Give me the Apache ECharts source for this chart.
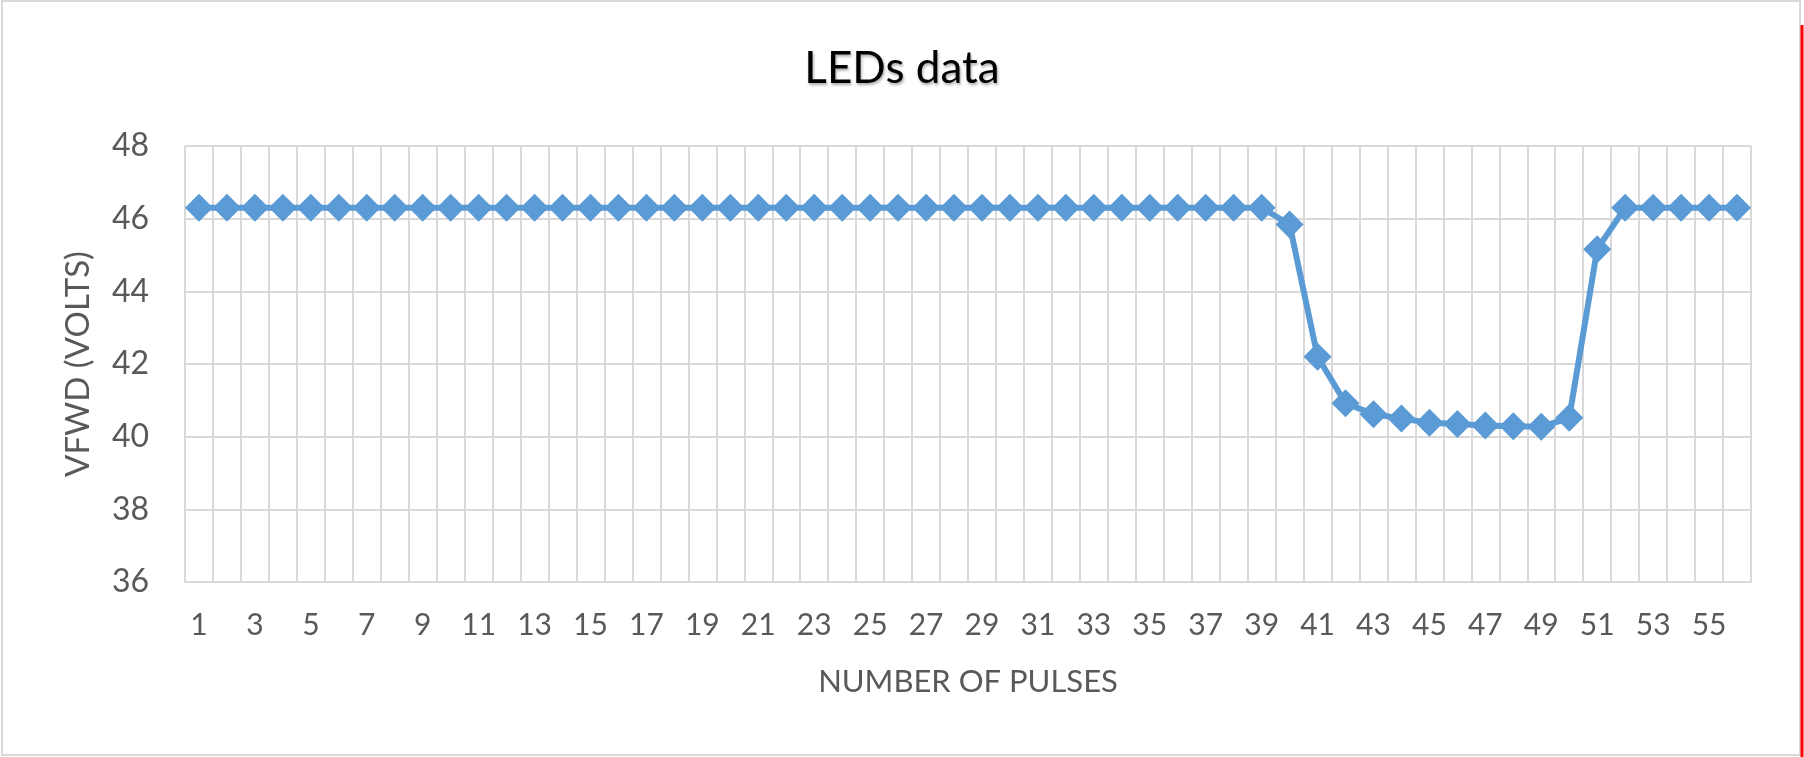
<!DOCTYPE html>
<html>
<head>
<meta charset="utf-8">
<title>LEDs data</title>
<script src="https://cdn.jsdelivr.net/npm/echarts@6.0.0/dist/echarts.min.js"></script>
<style>
  html, body { margin: 0; padding: 0; background: #fff; }
  #chart { width: 1804px; height: 757px; }
</style>
</head>
<body>
<div id="chart"></div>
<script>
"use strict";

// pulse number 1..56 (category labels)
const pulses = ["1","2","3","4","5","6","7","8","9","10","11","12","13","14",
  "15","16","17","18","19","20","21","22","23","24","25","26","27","28",
  "29","30","31","32","33","34","35","36","37","38","39","40","41","42",
  "43","44","45","46","47","48","49","50","51","52","53","54","55","56"];

// forward voltage (volts)
const vfwd = [46.3, 46.3, 46.3, 46.3, 46.3, 46.3, 46.3, 46.3, 46.3, 46.3,
  46.3, 46.3, 46.3, 46.3, 46.3, 46.3, 46.3, 46.3, 46.3, 46.3,
  46.3, 46.3, 46.3, 46.3, 46.3, 46.3, 46.3, 46.3, 46.3, 46.3,
  46.3, 46.3, 46.3, 46.3, 46.3, 46.3, 46.3, 46.3, 46.3, 45.84,
  42.2, 40.92, 40.62, 40.5, 40.38, 40.35, 40.31, 40.29, 40.27, 40.52,
  45.16, 46.3, 46.3, 46.3, 46.3, 46.3];

const Y_MIN = 36, Y_MAX = 48, Y_STEP = 2;

const INK = "#595959", GRID = "#d9d9d9", LINE = "#5b9bd5";
const FONT = "Lato, 'Open Sans', 'Noto Sans', sans-serif";

const chart = echarts.init(document.getElementById("chart"), null, { renderer: "canvas" });

chart.setOption({
  backgroundColor: "#ffffff",
  animation: false,
  textStyle: { fontFamily: FONT },
  title: {
    text: "LEDs data",
    left: "center",
    top: 42,
    textStyle: {
      color: "#000000", fontFamily: FONT, fontWeight: "normal", fontSize: 44,
      textShadowColor: "rgba(0,0,0,0.35)", textShadowBlur: 3,
      textShadowOffsetX: 1, textShadowOffsetY: 2,
    },
  },
  // outer chart frame + the red edge line at the right
  graphic: [
    { type: "rect", shape: { x: 2, y: 1, width: 1798, height: 754 },
      style: { fill: "none", stroke: GRID, lineWidth: 2 }, silent: true },
    { type: "line", shape: { x1: 1802, y1: 25, x2: 1802, y2: 757 },
      style: { stroke: "#ff0000", lineWidth: 3 }, silent: true },
  ],
  grid: { left: 185, right: 53, top: 146, bottom: 175, containLabel: false },
  xAxis: {
    type: "category",
    data: pulses,
    boundaryGap: true,
    name: "NUMBER OF PULSES",
    nameLocation: "middle",
    nameGap: 84,
    nameTextStyle: { color: INK, fontSize: 31, fontFamily: FONT },
    axisLine: { lineStyle: { color: GRID, width: 2 } },
    axisTick: { show: false },
    axisLabel: { color: INK, fontSize: 30, fontFamily: FONT, interval: 1, margin: 28 },
    splitLine: { show: true, interval: 0, lineStyle: { color: GRID, width: 2 } },
  },
  yAxis: {
    type: "value",
    min: Y_MIN, max: Y_MAX, interval: Y_STEP,
    name: "VFWD (VOLTS)",
    nameLocation: "middle",
    nameGap: 90,
    nameRotate: 90,
    nameTextStyle: { color: INK, fontSize: 33, fontFamily: FONT },
    axisLine: { show: false },
    axisTick: { show: false },
    axisLabel: { color: INK, fontSize: 32, fontFamily: FONT, margin: 36 },
    splitLine: { lineStyle: { color: GRID, width: 2 } },
  },
  series: [{
    type: "line",
    data: vfwd,
    symbol: "diamond",
    symbolSize: 28,
    showAllSymbol: true,
    lineStyle: { color: LINE, width: 6 },
    itemStyle: { color: LINE },
  }],
});
</script>
</body>
</html>
